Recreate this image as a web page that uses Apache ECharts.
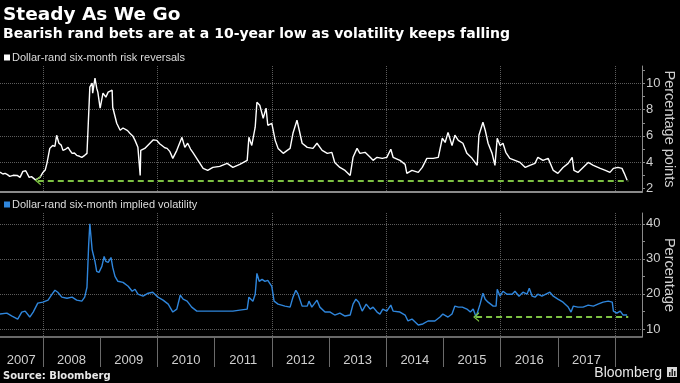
<!DOCTYPE html>
<html>
<head>
<meta charset="utf-8">
<script src="https://cdn.jsdelivr.net/npm/echarts@6/dist/echarts.min.js"></script>
<style>
html,body{margin:0;padding:0;background:#000;}
#chart{width:680px;height:383px;}
</style>
</head>
<body>
<div id="chart"></div>
<script>
// ---- data (decimal year, value) ----
const rrYears = [2007.25,2007.30,2007.34,2007.38,2007.42,2007.48,2007.55,2007.60,2007.65,2007.70,2007.72,2007.76,2007.80,2007.83,2007.87,2007.90,2007.95,2008.00,2008.04,2008.07,2008.10,2008.12,2008.17,2008.21,2008.24,2008.28,2008.32,2008.35,2008.40,2008.44,2008.48,2008.51,2008.55,2008.59,2008.64,2008.68,2008.73,2008.77,2008.79,2008.82,2008.86,2008.87,2008.91,2008.94,2008.96,2009.00,2009.05,2009.10,2009.14,2009.21,2009.22,2009.29,2009.35,2009.40,2009.43,2009.48,2009.52,2009.57,2009.61,2009.66,2009.69,2009.70,2009.71,2009.78,2009.87,2009.93,2009.99,2010.04,2010.08,2010.13,2010.17,2010.22,2010.27,2010.34,2010.43,2010.48,2010.53,2010.58,2010.62,2010.71,2010.80,2010.88,2010.97,2011.09,2011.22,2011.32,2011.44,2011.57,2011.60,2011.65,2011.71,2011.74,2011.79,2011.85,2011.90,2011.93,2012.00,2012.06,2012.11,2012.20,2012.27,2012.32,2012.37,2012.44,2012.48,2012.53,2012.62,2012.72,2012.79,2012.88,2012.97,2013.05,2013.10,2013.19,2013.28,2013.37,2013.42,2013.49,2013.54,2013.63,2013.72,2013.77,2013.84,2013.93,2014.01,2014.08,2014.12,2014.24,2014.33,2014.36,2014.45,2014.56,2014.63,2014.71,2014.82,2014.91,2014.98,2015.03,2015.08,2015.15,2015.20,2015.26,2015.34,2015.41,2015.50,2015.59,2015.62,2015.69,2015.73,2015.78,2015.85,2015.90,2015.94,2015.99,2016.04,2016.09,2016.16,2016.25,2016.34,2016.43,2016.51,2016.60,2016.65,2016.74,2016.83,2016.92,2017.00,2017.09,2017.18,2017.25,2017.28,2017.35,2017.44,2017.53,2017.62,2017.74,2017.83,2017.91,2017.97,2018.05,2018.12,2018.16,2018.21];
const rrValues = [3.24,3.10,3.15,3.05,2.92,3.00,2.99,2.84,3.30,3.35,3.37,2.84,2.90,2.76,2.65,2.53,2.84,3.22,3.40,3.91,4.60,5.05,5.27,5.20,6.05,5.44,5.30,4.90,5.00,5.13,4.85,4.67,4.70,4.52,4.45,4.37,4.52,4.67,6.66,9.71,10.02,9.25,10.40,9.63,9.33,8.11,9.25,8.95,9.33,9.48,8.18,6.96,6.43,6.60,6.58,6.40,6.20,6.00,5.66,5.13,5.00,2.99,4.90,5.05,5.44,5.70,5.66,5.40,5.27,5.10,5.05,4.80,4.29,4.90,5.89,5.13,5.44,5.00,4.75,4.14,3.53,3.37,3.60,3.68,3.91,3.60,3.83,4.14,5.89,5.27,6.66,8.56,8.34,7.34,8.11,6.81,6.96,5.66,5.05,4.67,4.90,5.05,6.20,7.19,6.43,5.44,5.13,5.05,5.44,4.90,4.67,4.75,3.98,3.60,3.37,2.99,4.37,5.05,4.67,4.75,4.37,4.14,4.37,4.29,4.37,4.98,4.37,4.14,3.83,3.15,3.37,3.22,3.60,4.29,4.29,4.37,5.82,5.50,6.27,5.27,6.05,5.66,5.44,4.67,4.29,3.76,6.05,7.04,6.43,5.44,4.67,3.76,5.82,5.27,5.44,4.75,4.29,4.14,3.98,3.60,3.76,3.91,4.37,4.14,4.29,3.37,3.15,3.60,3.91,4.37,3.37,3.22,3.60,3.98,3.76,3.53,3.37,3.22,3.53,3.60,3.53,3.15,2.62];

const volYears = [2007.25,2007.37,2007.46,2007.56,2007.63,2007.69,2007.77,2007.83,2007.91,2008.00,2008.09,2008.16,2008.21,2008.26,2008.33,2008.42,2008.51,2008.59,2008.68,2008.73,2008.77,2008.80,2008.82,2008.86,2008.87,2008.91,2008.94,2008.98,2009.03,2009.07,2009.10,2009.14,2009.19,2009.22,2009.26,2009.31,2009.40,2009.49,2009.56,2009.61,2009.66,2009.75,2009.84,2009.92,2010.01,2010.10,2010.19,2010.27,2010.34,2010.40,2010.45,2010.52,2010.60,2010.69,2010.80,2010.92,2011.09,2011.22,2011.32,2011.44,2011.57,2011.60,2011.67,2011.71,2011.74,2011.78,2011.83,2011.88,2011.93,2012.00,2012.04,2012.11,2012.23,2012.32,2012.37,2012.42,2012.46,2012.53,2012.62,2012.65,2012.70,2012.79,2012.84,2012.93,2013.02,2013.10,2013.19,2013.28,2013.37,2013.42,2013.47,2013.52,2013.58,2013.65,2013.72,2013.77,2013.84,2013.89,2013.94,2014.01,2014.08,2014.12,2014.24,2014.33,2014.38,2014.45,2014.56,2014.64,2014.73,2014.85,2014.94,2014.99,2015.08,2015.15,2015.20,2015.26,2015.33,2015.41,2015.47,2015.52,2015.57,2015.64,2015.69,2015.73,2015.78,2015.87,2015.92,2015.94,2015.99,2016.04,2016.11,2016.20,2016.25,2016.32,2016.39,2016.46,2016.50,2016.55,2016.60,2016.65,2016.72,2016.79,2016.86,2016.92,2017.00,2017.09,2017.18,2017.23,2017.27,2017.35,2017.44,2017.53,2017.62,2017.70,2017.79,2017.88,2017.95,2017.97,2018.03,2018.09,2018.14,2018.21];
const volValues = [14.25,14.53,13.68,12.83,14.82,15.10,13.40,14.82,17.37,17.65,18.22,19.92,21.05,20.48,19.07,18.78,19.07,18.22,17.93,19.07,21.90,34.08,40.03,32.66,32.10,29.26,26.43,26.15,27.85,30.68,29.26,28.98,30.40,27.56,25.01,23.60,23.31,22.18,20.76,21.33,19.92,19.35,20.20,20.48,19.07,18.22,17.08,14.82,15.67,19.63,18.50,17.93,16.23,15.10,15.10,15.10,15.10,15.10,15.10,15.38,15.67,19.07,17.93,19.92,25.86,23.60,24.16,23.60,23.88,22.18,17.93,17.08,16.52,16.23,19.07,21.05,19.92,16.52,16.52,17.93,16.23,18.22,16.23,14.82,14.82,13.97,14.53,13.68,13.97,17.08,18.50,17.65,15.10,17.08,15.67,16.23,14.82,14.25,15.67,15.10,16.80,15.10,14.82,13.97,12.27,12.83,11.13,11.42,12.27,12.27,13.40,14.25,13.40,14.25,16.52,16.23,16.23,15.67,14.82,15.67,13.40,17.08,20.20,18.50,17.65,16.52,16.52,21.33,19.35,20.76,19.92,19.92,20.76,19.35,20.48,19.92,21.61,19.35,19.07,19.92,19.35,19.92,20.48,19.35,18.50,17.65,16.23,14.82,16.52,16.23,16.23,16.80,16.52,17.08,17.65,17.93,17.65,15.10,14.53,15.10,13.97,13.97];

// annotation: 10-year-low reference lines [startYear, endYear, level]
const rrLowLine = [2007.91, 2018.23, 2.61];
const volLowLine = [2015.57, 2018.23, 13.4];

// axis ticks / labels (year labels sit in the middle of the visible part of each year)
const yearTicks = [2008,2009,2010,2011,2012,2013,2014,2015,2016,2017,2018];
const yearGrid = [2008,2010,2012,2014,2016,2018];
const yearLabelPos = [2007.62,2008.5,2009.5,2010.5,2011.5,2012.5,2013.5,2014.5,2015.5,2016.5,2017.5];
const rrTicks = [2,3,4,5,6,7,8,9,10,11];
const rrLabels = [2,4,6,8,10];
const rrGrid = [4,6,8,10];
const volTicks = [10,15,20,25,30,35,40];
const volLabels = [10,20,30,40];

const titleText = 'Steady As We Go';
const subtitleText = 'Bearish rand bets are at a 10-year low as volatility keeps falling';
const rrName = 'Dollar-rand six-month risk reversals';
const volName = 'Dollar-rand six-month implied volatility';

const X_MIN = 2007.25, X_MAX = 2018.47;
const GREEN = '#7cc142';
const AX = '#8a8a8a';
const TXT = '#cfcfcf';
const SANS = '"Liberation Sans", Arial, sans-serif';
const BOLD = '"DejaVu Sans", sans-serif';

const chevron = 'path://M0,10 L5,0 L10,10 L8.4,10 L5,3.2 L1.6,10 Z';

function zip(a, b) { return a.map((v, i) => [v, b[i]]); }

const chart = echarts.init(document.getElementById('chart'), null, {renderer: 'canvas'});

const gridLine = {show: true, lineStyle: {color: '#5c5c5c', type: 'dotted', width: 1}};

chart.setOption({
  backgroundColor: '#000',
  animation: false,
  title: [
    {text: titleText, left: 3, top: 6, padding: 0, textStyle: {color: '#fff', fontSize: 18.5, fontWeight: 'bold', fontFamily: BOLD}},
    {text: subtitleText, left: 3, top: 27, padding: 0, textStyle: {color: '#fff', fontSize: 14, fontWeight: 'bold', fontFamily: BOLD}},
    {text: 'Source: Bloomberg', left: 3, top: 371, padding: 0, textStyle: {color: '#e8e8e8', fontSize: 10, fontWeight: 'bold', fontFamily: BOLD}},
    {text: 'Bloomberg', right: 18, top: 366, padding: 0, textStyle: {color: '#e8e8e8', fontSize: 14, fontWeight: 'normal', fontFamily: SANS}}
  ],
  legend: [
    {data: [rrName], left: 4, top: 52, padding: 0, icon: 'rect', itemWidth: 6, itemHeight: 6, itemGap: 4,
     textStyle: {color: '#dcdcdc', fontSize: 11, fontFamily: SANS, padding: [0,0,0,-3]}, selectedMode: false},
    {data: [volName], left: 4, top: 199, padding: 0, icon: 'rect', itemWidth: 6, itemHeight: 6, itemGap: 4,
     textStyle: {color: '#dcdcdc', fontSize: 11, fontFamily: SANS, padding: [0,0,0,-3]}, selectedMode: false}
  ],
  grid: [
    {left: 0, top: 66, width: 642, height: 126, containLabel: false, outerBoundsMode: 'none'},
    {left: 0, top: 213, width: 642, height: 124, containLabel: false, outerBoundsMode: 'none'}
  ],
  xAxis: [
    {type: 'value', gridIndex: 0, min: X_MIN, max: X_MAX, position: 'bottom',
     axisLine: {show: true, lineStyle: {color: AX, width: 2}},
     axisTick: {show: false, customValues: yearGrid},
     axisLabel: {show: false}, splitLine: gridLine},
    {type: 'value', gridIndex: 1, min: X_MIN, max: X_MAX, position: 'bottom',
     axisLine: {show: true, lineStyle: {color: AX, width: 1.5}},
     axisTick: {show: true, customValues: yearTicks, length: 30, lineStyle: {color: '#6a6a6a', width: 1}},
     axisLabel: {show: true, customValues: yearLabelPos, margin: 17, color: TXT, fontSize: 13, fontFamily: SANS,
       formatter: v => String(Math.floor(v))},
     splitLine: {show: false}},
    {type: 'value', gridIndex: 1, min: X_MIN, max: X_MAX, position: 'top',
     axisLine: {show: false}, axisTick: {show: false, customValues: yearGrid},
     axisLabel: {show: false}, splitLine: gridLine}
  ],
  yAxis: [
    {type: 'value', gridIndex: 0, min: 1.73, max: 11.32, position: 'right',
     name: 'Percentage points', nameLocation: 'middle', nameRotate: -90, nameGap: 19, nameMoveOverlap: false,
     nameTextStyle: {color: TXT, fontSize: 14.5, fontFamily: SANS},
     axisLine: {show: true, lineStyle: {color: AX, width: 1}},
     axisTick: {show: true, customValues: rrTicks, length: 3, lineStyle: {color: AX}},
     axisLabel: {show: true, customValues: rrLabels, margin: 4, color: TXT, fontSize: 13, fontFamily: SANS},
     splitLine: {show: false}},
    {type: 'value', gridIndex: 0, min: 1.73, max: 11.32, position: 'left',
     axisLine: {show: false}, axisTick: {show: false, customValues: rrGrid},
     axisLabel: {show: false}, splitLine: gridLine},
    {type: 'value', gridIndex: 1, min: 7.7, max: 43.1, position: 'right',
     name: 'Percentage', nameLocation: 'middle', nameRotate: -90, nameGap: 19, nameMoveOverlap: false,
     nameTextStyle: {color: TXT, fontSize: 14.5, fontFamily: SANS},
     axisLine: {show: true, lineStyle: {color: AX, width: 1}},
     axisTick: {show: true, customValues: volTicks, length: 3, lineStyle: {color: AX}},
     axisLabel: {show: true, customValues: volLabels, margin: 4, color: TXT, fontSize: 13, fontFamily: SANS},
     splitLine: {show: false}},
    {type: 'value', gridIndex: 1, min: 7.7, max: 43.1, position: 'left',
     axisLine: {show: false}, axisTick: {show: false, customValues: volLabels},
     axisLabel: {show: false}, splitLine: gridLine}
  ],
  series: [
    {name: rrName, type: 'line', xAxisIndex: 0, yAxisIndex: 0, data: zip(rrYears, rrValues),
     showSymbol: false, symbol: 'none', color: '#ffffff', lineStyle: {color: '#ffffff', width: 1.4},
     markLine: {silent: true, symbol: [chevron, 'none'], symbolSize: [10, 6], label: {show: false},
       lineStyle: {color: GREEN, type: [6, 4], width: 2}, emphasis: {disabled: true},
       data: [[{coord: [rrLowLine[0], rrLowLine[2]]}, {coord: [rrLowLine[1], rrLowLine[2]]}]]}},
    {name: volName, type: 'line', xAxisIndex: 1, yAxisIndex: 2, data: zip(volYears, volValues),
     showSymbol: false, symbol: 'none', color: '#2f86dc', lineStyle: {color: '#2f86dc', width: 1.4},
     markLine: {silent: true, symbol: [chevron, 'none'], symbolSize: [10, 6], label: {show: false},
       lineStyle: {color: GREEN, type: [6, 4], width: 2}, emphasis: {disabled: true},
       data: [[{coord: [volLowLine[0], volLowLine[2]]}, {coord: [volLowLine[1], volLowLine[2]]}]]}}
  ],
  graphic: [
    {type: 'group', right: 3, top: 367, children: [
      {type: 'rect', shape: {x: 0, y: 0, width: 10, height: 10}, style: {fill: '#d8d8d8'}},
      {type: 'rect', shape: {x: 2, y: 5, width: 1.5, height: 4}, style: {fill: '#222'}},
      {type: 'rect', shape: {x: 4.5, y: 2, width: 1.5, height: 7}, style: {fill: '#222'}},
      {type: 'rect', shape: {x: 7, y: 4, width: 1.5, height: 5}, style: {fill: '#222'}}
    ]}
  ]
});
</script>
</body>
</html>
